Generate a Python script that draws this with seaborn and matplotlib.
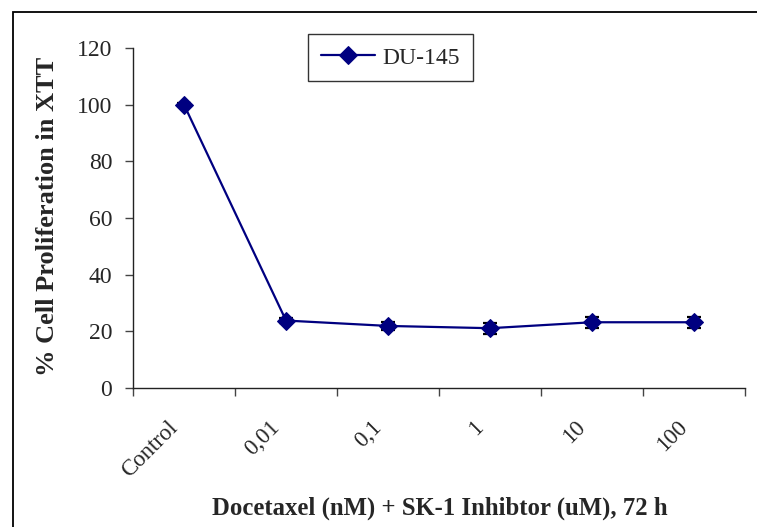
import numpy as np
import pandas as pd
import seaborn as sns
import matplotlib.pyplot as plt
import matplotlib.transforms as mtransforms
from matplotlib.patches import Rectangle

# values
doses = ["Control", "0,01", "0,1", "1", "10", "100"]
proliferation = [100, 23.8, 21.9, 21.1, 23.2, 23.2]
sem = [0.5, 1.0, 1.3, 2.0, 2.0, 2.0]

df = pd.DataFrame({"dose": doses, "prolif": proliferation, "sem": sem})
df["pos"] = np.arange(len(doses))

sns.set_style("white")
plt.rcParams["font.family"] = ["Liberation Serif", "DejaVu Serif"]

fig = plt.figure(figsize=(7.57, 5.27), dpi=100)
ax = fig.add_axes([0.1757, 0.2638, 0.8085, 0.6451])

# outer chart border (only top / left visible)
fig.patches.append(Rectangle((13 / 757, -0.1), 1.2, 1 - 12 / 527 + 0.1, transform=fig.transFigure,
                             fill=False, edgecolor="black", linewidth=1.3, zorder=0))

ax.errorbar(df["pos"], df["prolif"], yerr=df["sem"], fmt="none", ecolor="black",
            elinewidth=1.0, capsize=5, capthick=1.6, zorder=2)
sns.lineplot(data=df, x="pos", y="prolif", ax=ax, color="#000080", linewidth=1.6,
             marker="D", markersize=9, markeredgecolor="#000080", label="DU-145", zorder=3)

ax.set_xlim(-0.5, 5.5)
ax.set_ylim(0, 120)
ax.set_yticks(range(0, 121, 20))
ax.set_yticklabels([str(v) for v in range(0, 121, 20)], fontsize=17)

# Excel style: tick marks between categories, labels at centres
ax.set_xticks(np.arange(-0.5, 6, 1))
ax.set_xticklabels([])
ax.set_xticks(df["pos"], minor=True)
ax.set_xticklabels(doses, minor=True, rotation=45, ha="right", rotation_mode="anchor", fontsize=16.5)
ax.tick_params(axis="x", which="minor", length=0, pad=21)
ax.tick_params(axis="both", which="major", direction="out", length=6, width=1, color="#444444",
               left=True, bottom=True)
ax.tick_params(axis="y", pad=9)
shift = mtransforms.ScaledTranslation(-17 / 100, 0, fig.dpi_scale_trans)
for lab in ax.get_xticklabels(minor=True):
    lab.set_transform(lab.get_transform() + shift)

for s in ["top", "right"]:
    ax.spines[s].set_visible(False)
for s in ["left", "bottom"]:
    ax.spines[s].set_color("#222222")
    ax.spines[s].set_linewidth(1.0)

ax.set_xlabel("Docetaxel (nM) + SK-1 Inhibtor (uM), 72 h", fontsize=17.8, fontweight="bold")
ax.set_ylabel("% Cell Proliferation in XTT", fontsize=19, fontweight="bold")
ax.xaxis.set_label_coords((440 - 133) / 612, -(497 - 388) / 340)
ax.yaxis.set_label_coords(-(133 - 59) / 612, (388 - 216) / 340)

leg = ax.legend(loc="upper left", bbox_to_anchor=(308 / 757, 1 - 34 / 527), bbox_transform=fig.transFigure,
                frameon=True, fancybox=False, fontsize=17, handlelength=2.3, borderpad=0.55,
                borderaxespad=0, handletextpad=0.3)
leg.get_frame().set_edgecolor("black")
leg.get_frame().set_linewidth(1.0)

fig.savefig("out.png", dpi=100)
